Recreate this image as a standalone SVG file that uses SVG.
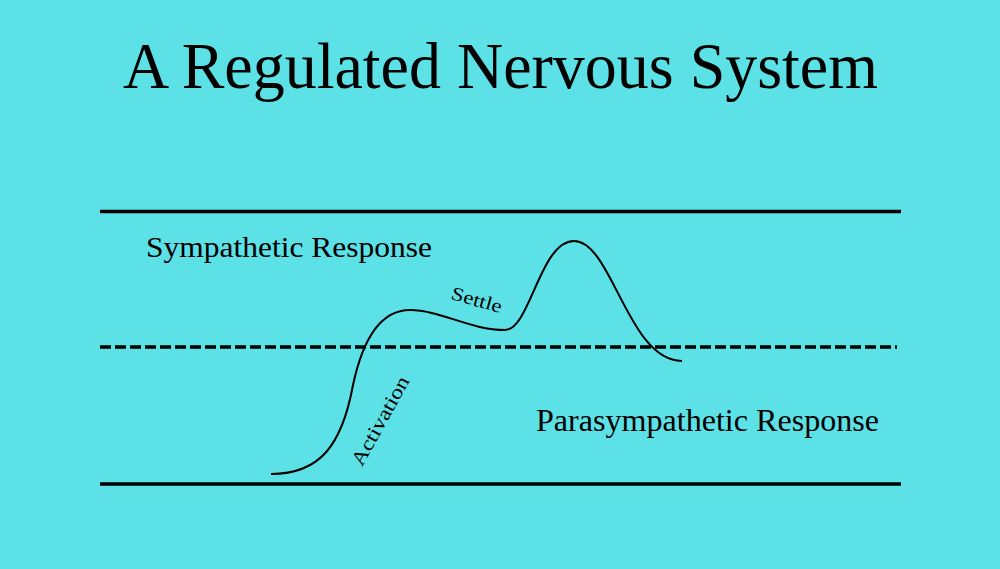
<svg xmlns="http://www.w3.org/2000/svg" width="1000" height="569" viewBox="0 0 1000 569">
  <style>
    .t { font-family: "Liberation Serif", "DejaVu Serif", serif; fill: #000; }
    .solid { stroke: #000; stroke-width: 3.5; fill: none; }
    .dash { stroke: #000; stroke-width: 3.5; fill: none; stroke-dasharray: 11 4; }
    .curve { stroke: #000; stroke-width: 2; fill: none; }
  </style>
  <rect width="1000" height="569" fill="#5CE1E6"/>
  <g id="title">
    <text class="t" x="123" y="88" font-size="66" textLength="755" lengthAdjust="spacingAndGlyphs">A Regulated Nervous System</text>
  </g>
  <g id="levels">
    <line class="solid" x1="100" y1="211.5" x2="901" y2="211.5"/>
    <line class="dash" x1="100" y1="347" x2="897" y2="347"/>
    <line class="solid" x1="100" y1="484" x2="901" y2="484"/>
  </g>
  <g id="sympathetic">
    <text class="t" x="146" y="257" font-size="30" textLength="286" lengthAdjust="spacingAndGlyphs">Sympathetic Response</text>
  </g>
  <g id="parasympathetic">
    <text class="t" x="536" y="431" font-size="31" textLength="343" lengthAdjust="spacingAndGlyphs">Parasympathetic Response</text>
  </g>
  <g id="connectors">
    <path class="curve" d="M271,474 C320,474 342,445 353,385 C362,343 378,310 410,310 C440,310 470,330 505,330 C530,330 540,241 574,241 C612,241 628,361 682,361"/>
  </g>
  <g id="activation">
    <text class="t" font-size="20" text-anchor="middle" transform="translate(386,424) rotate(-61)" textLength="99" lengthAdjust="spacingAndGlyphs">Activation</text>
  </g>
  <g id="settle">
    <text class="t" font-size="19" text-anchor="middle" transform="translate(475,306) rotate(16)" textLength="52" lengthAdjust="spacingAndGlyphs">Settle</text>
  </g>
</svg>
